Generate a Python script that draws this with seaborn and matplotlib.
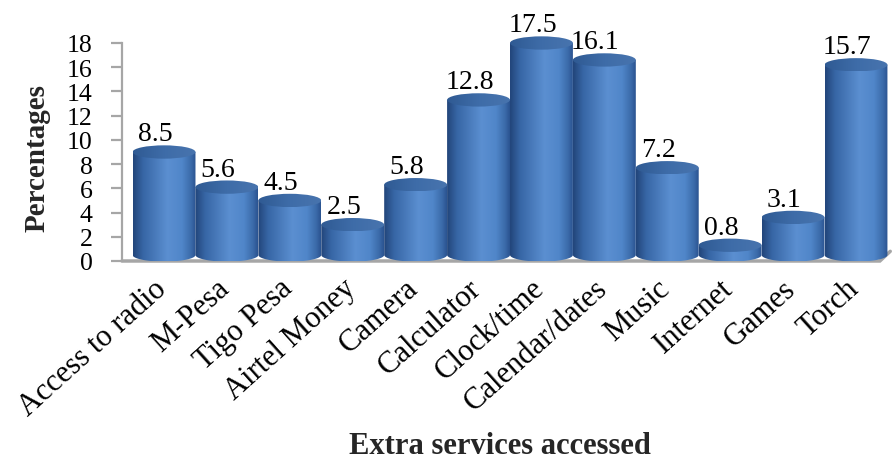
import numpy as np
import pandas as pd
import matplotlib
matplotlib.use("Agg")
import matplotlib.pyplot as plt
import seaborn as sns
from matplotlib.colors import LinearSegmentedColormap
from matplotlib.patches import Ellipse, Polygon
from matplotlib.transforms import ScaledTranslation

services = ["Access to radio", "M-Pesa", "Tigo Pesa", "Airtel Money", "Camera",
            "Calculator", "Clock/time", "Calendar/dates", "Music", "Internet",
            "Games", "Torch"]
percentages = [8.5, 5.6, 4.5, 2.5, 5.8, 12.8, 17.5, 16.1, 7.2, 0.8, 3.1, 15.7]
y_ticks = [0, 2, 4, 6, 8, 10, 12, 14, 16, 18]

df = pd.DataFrame({"service": services, "pct": percentages})

sns.set_theme(style="white")
plt.rcParams["font.family"] = ["Liberation Serif", "DejaVu Serif"]

W, H = 893, 464
fig = plt.figure(figsize=(W / 100, H / 100), dpi=100)
px_per_unit = 218 / 18
y_top = 19.5
ax_h = y_top * px_per_unit
ax = fig.add_axes([122 / W, (H - 262) / H, 767 / W, ax_h / H])

sns.barplot(data=df, x="service", y="pct", width=1.0, color="#4f81bd",
            saturation=1, ax=ax)
bars = list(ax.patches)

# cylinder shading
body_cmap = LinearSegmentedColormap.from_list(
    "body", [(0.0, "#22457a"), (0.16, "#3766a5"), (0.55, "#5b8fd1"),
             (0.78, "#5086c9"), (0.93, "#3a69a8"), (1.0, "#2a5390")])
top_cmap = LinearSegmentedColormap.from_list(
    "top", [(0.0, "#2f5a93"), (0.5, "#3e6ca8"), (1.0, "#4874ae")])
grad = np.linspace(0, 1, 256)[None, :]

depth = 0.5   # floor depth under the cylinders
ry = 0.55     # half-height of the elliptical caps

for i, bar in enumerate(bars):
    x0, w, h = bar.get_x(), bar.get_width(), bar.get_height()
    bar.set_visible(False)
    cx = x0 + w / 2
    base, top = depth, h + depth
    t = np.linspace(np.pi, 2 * np.pi, 80)
    arc = list(zip(cx + (w / 2) * np.cos(t), base + ry * np.sin(t)))
    outline = Polygon([(x0, top)] + arc + [(x0 + w, top)], closed=True,
                      facecolor="none", edgecolor="none")
    ax.add_patch(outline)
    z = 3 + i * 0.01
    im = ax.imshow(grad, cmap=body_cmap, aspect="auto", interpolation="bicubic",
                   extent=[x0, x0 + w, base - ry, top], zorder=z)
    im.set_clip_path(outline)
    im.set_clip_box(None)

    cap = Ellipse((cx, top), w, 2 * ry, facecolor="none", edgecolor="none")
    ax.add_patch(cap)
    im2 = ax.imshow(grad, cmap=top_cmap, aspect="auto", interpolation="bicubic",
                    extent=[x0, x0 + w, top - ry, top + ry], zorder=z + 0.005)
    im2.set_clip_path(cap)
    im2.set_clip_box(None)

    ax.annotate(f"{percentages[i]}", xy=(cx, top + ry), xytext=(-6.5, 3.5),
                textcoords="offset points", ha="center", va="baseline",
                fontsize=20, color="black", zorder=10, annotation_clip=False)

xmin, xmax = -0.668, 11.525
ax.set_xlim(xmin, xmax)
ax.set_ylim(0, y_top)

# floor slab
floor_front_r = 11.38
floor = Polygon([(xmin, 0), (floor_front_r, 0), (xmax + 0.02, 0.8), (xmin + 0.1, 0.8)],
                closed=True, facecolor="white", edgecolor="none", zorder=1,
                clip_on=False)
ax.add_patch(floor)
ax.plot([xmin, floor_front_r, xmax + 0.02], [0, 0, 0.8], color="#a6a6a6",
        lw=2.5, solid_joinstyle="miter", clip_on=False, zorder=2)

# axes styling
for side in ["top", "right", "bottom"]:
    ax.spines[side].set_visible(False)
ax.spines["left"].set_color("#a6a6a6")
ax.spines["left"].set_linewidth(1.6)
ax.spines["left"].set_bounds(0, 18)
ax.set_yticks(y_ticks)
ax.set_yticklabels([str(v) for v in y_ticks], fontsize=18.5)
ax.tick_params(axis="y", which="major", direction="out", length=8, width=1.6,
               color="#a6a6a6", pad=13, labelcolor="black", left=True)

ax.set_xticks(range(len(services)))
ax.set_xticklabels(services, fontsize=22, rotation=42, ha="right", va="top",
                   rotation_mode="anchor", color="black")
ax.tick_params(axis="x", length=0, pad=9)
shift = ScaledTranslation(-11 / 100, 0, fig.dpi_scale_trans)
for lbl in ax.get_xticklabels():
    lbl.set_transform(lbl.get_transform() + shift)

ax.set_ylabel("Percentages", fontsize=21, fontweight="bold", va="center")
ax.yaxis.set_label_coords((37 - 122) / 767, (262 - 158) / ax_h)
ax.set_xlabel("Extra services accessed", fontsize=22, fontweight="bold", va="center")
ax.xaxis.set_label_coords((500 - 122) / 767, -(447 - 262) / ax_h)

ax.set_facecolor("none")
fig.patch.set_facecolor("white")
fig.savefig("out.png", dpi=100)
